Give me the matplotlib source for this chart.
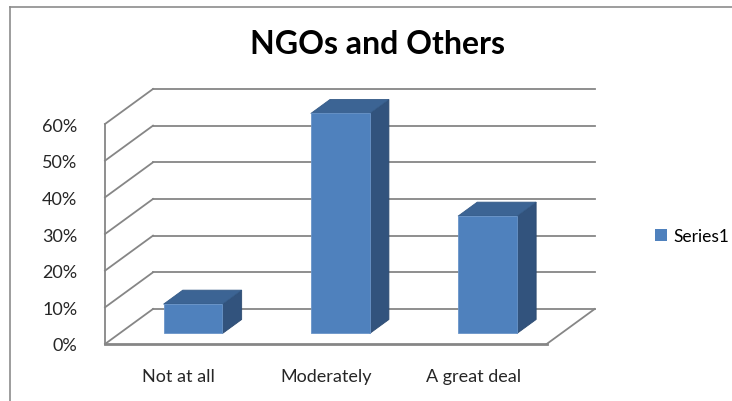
import matplotlib.pyplot as plt
from matplotlib.patches import Polygon, Patch

# data
categories = ['Not at all', 'Moderately', 'A great deal']
values = [8, 60, 32]
yticks = [0, 10, 20, 30, 40, 50, 60]
ytick_labels = ['0%', '10%', '20%', '30%', '40%', '50%', '60%']
title = 'NGOs and Others'
series_name = 'Series1'

# oblique 3D look: depth offset in data units
OX, OY = 0.326, 9.55
BAR_W = 0.4
D0, D1 = 0.3, 0.7
GRID = '#868686'

plt.rcParams['font.family'] = ['Lato', 'DejaVu Sans']

fig = plt.figure(figsize=(7.32, 4.02), dpi=100)
ax = fig.add_axes([105 / 732, 57 / 402, 441.7 / 732, 220 / 402])
ax.set_xlim(-0.5, len(categories) - 0.5)
ax.set_ylim(0, 60)


def proj(x, y, d):
    return (x + d * OX, y + d * OY)


x0, x1 = -0.5, len(categories) - 0.5
ytop = max(yticks)

# back wall gridlines and left wall diagonals
for v in yticks:
    bx0, by = proj(x0, v, 1)
    bx1, _ = proj(x1, v, 1)
    ax.plot([bx0, bx1], [by, by], color=GRID, lw=1.3, clip_on=False, zorder=1)
    ax.plot([x0, bx0], [v, by], color=GRID, lw=1.3, clip_on=False, zorder=1)

# left wall front edge
ax.plot([x0, x0], [0, ytop], color=GRID, lw=1.3, clip_on=False, zorder=1)
# floor front and right edges
ax.plot([x0, x1], [0, 0], color=GRID, lw=2.0, clip_on=False, zorder=1)
rx, ry = proj(x1, 0, 1)
ax.plot([x1, rx], [0, ry], color=GRID, lw=1.3, clip_on=False, zorder=1)

# bars
for i, v in enumerate(values):
    l, r = i - BAR_W / 2, i + BAR_W / 2
    front = [proj(l, 0, D0), proj(r, 0, D0), proj(r, v, D0), proj(l, v, D0)]
    top = [proj(l, v, D0), proj(r, v, D0), proj(r, v, D1), proj(l, v, D1)]
    side = [proj(r, 0, D0), proj(r, 0, D1), proj(r, v, D1), proj(r, v, D0)]
    ax.add_patch(Polygon(side, closed=True, fc='#32537d', ec='#2c4a70', lw=0.6, clip_on=False, zorder=3))
    ax.add_patch(Polygon(top, closed=True, fc='#3c6494', ec='#345a87', lw=0.6, clip_on=False, zorder=3))
    ax.add_patch(Polygon(front, closed=True, fc='#4f81bd', ec='#6a95c9', lw=0.6, clip_on=False, zorder=4))

ax.set_yticks(yticks)
ax.set_yticklabels(ytick_labels, fontsize=13, color='#262626')
ax.set_xticks(range(len(categories)))
ax.set_xticklabels(categories, fontsize=13, color='#262626')
ax.tick_params(axis='y', length=0, pad=20)
ax.tick_params(axis='x', length=0, pad=17)
for s in ax.spines.values():
    s.set_visible(False)
ax.patch.set_visible(False)

fig.text(378 / 732, 1 - 44 / 402, title, ha='center', va='center',
         fontsize=23, fontweight='bold', color='black')

fig.legend(handles=[Patch(fc='#4f81bd', ec='none', label=series_name)],
           loc='center left', bbox_to_anchor=(639 / 732, 1 - 237 / 402),
           frameon=False, fontsize=12.5, handlelength=0.7, handleheight=0.7,
           handletextpad=0.4)

# chart border
fig.add_artist(plt.Line2D([10 / 732, 10 / 732], [0, 1 - 8 / 402],
                          transform=fig.transFigure, color='#8c8c8c', lw=1.2))
fig.add_artist(plt.Line2D([10 / 732, 1], [1 - 8 / 402, 1 - 8 / 402],
                          transform=fig.transFigure, color='#8c8c8c', lw=1.2))

fig.savefig('out.png', dpi=100)
